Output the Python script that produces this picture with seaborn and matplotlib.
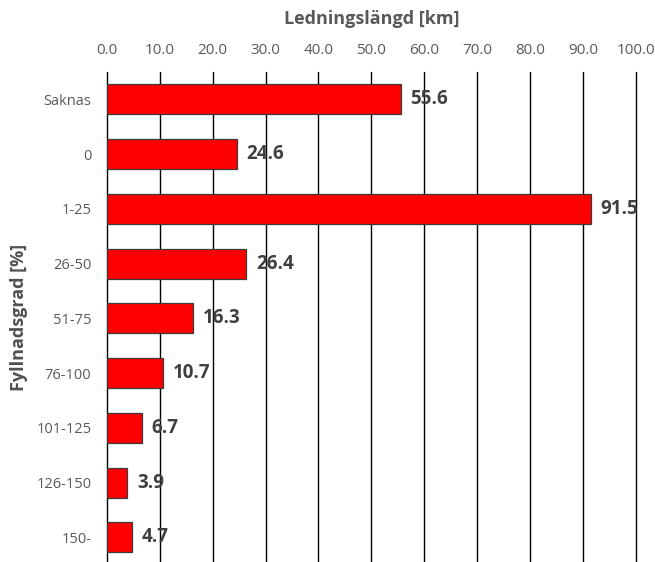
import pandas as pd
import matplotlib.pyplot as plt
import seaborn as sns

# Data
categories = ["Saknas", "0", "1-25", "26-50", "51-75", "76-100", "101-125", "126-150", "150-"]
lengths = [55.6, 24.6, 91.5, 26.4, 16.3, 10.7, 6.7, 3.9, 4.7]
xticks = [0, 10, 20, 30, 40, 50, 60, 70, 80, 90, 100]

df = pd.DataFrame({"Fyllnadsgrad": categories, "Langd": lengths})

sns.set_style("white")
plt.rcParams["font.family"] = ["Open Sans", "DejaVu Sans"]

fig = plt.figure(figsize=(6.55, 5.62), dpi=100)
ax = fig.add_axes([0.163, 0.0, 0.808, 0.872])

sns.barplot(data=df, x="Langd", y="Fyllnadsgrad", orient="h", color="#ff0000",
            saturation=1, width=0.55, edgecolor="#3a3a3a", linewidth=0.9,
            ax=ax, zorder=3)

# vertical gridlines
for t in xticks:
    ax.axvline(t, color="black", linewidth=1.0, zorder=1, clip_on=False)

ax.set_xlim(0, 100)
ax.set_ylim(8.45, -0.5)
ax.xaxis.tick_top()
ax.xaxis.set_label_position("top")
ax.set_xticks(xticks)
ax.set_xticklabels([f"{t:.1f}" for t in xticks])
ax.tick_params(axis="both", length=0, labelsize=10.5, colors="#595959")
ax.tick_params(axis="x", labelsize=11, pad=10)
ax.tick_params(axis="y", pad=11)

ax.set_xlabel("Ledningslängd [km]", fontsize=13, fontweight="bold",
              color="#595959", labelpad=14)
ax.set_ylabel("Fyllnadsgrad [%]", fontsize=13, fontweight="bold",
              color="#505050", labelpad=6)
ax.yaxis.label.set_y(0.5)

for s in ax.spines.values():
    s.set_visible(False)

# value labels
for i, v in enumerate(lengths):
    ax.text(v + 1.8, i, f"{v:.1f}", va="center", ha="left",
            fontsize=13.5, fontweight="bold", color="#404040", zorder=4)

fig.savefig("out.png", dpi=100)
